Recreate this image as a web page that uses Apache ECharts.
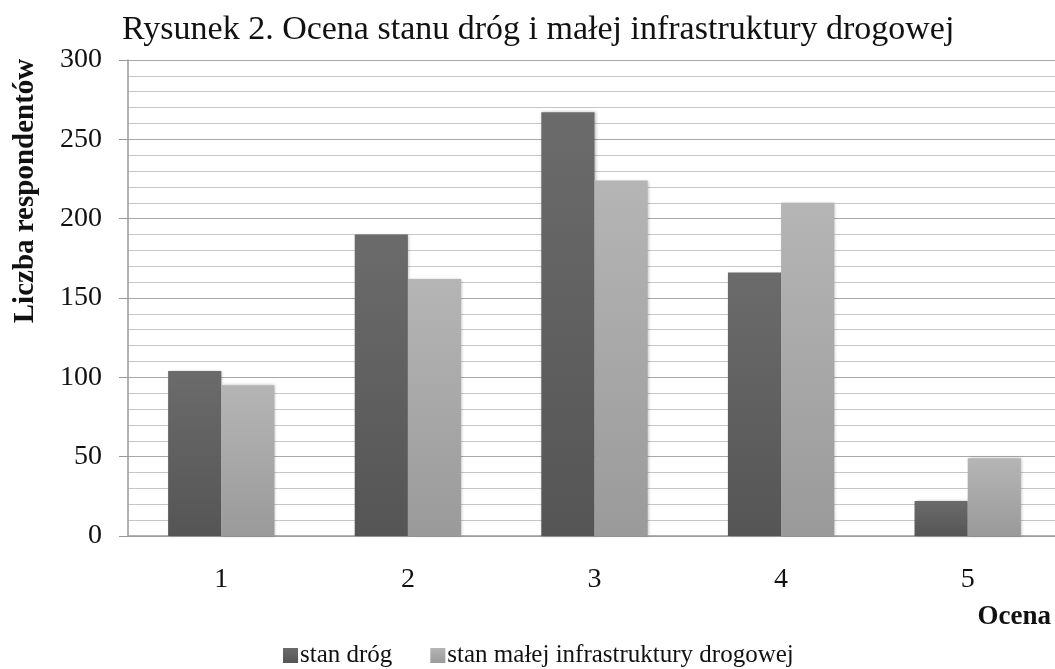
<!DOCTYPE html>
<html><head><meta charset="utf-8">
<script src="https://cdn.jsdelivr.net/npm/echarts@6/dist/echarts.min.js"></script>
<style>html,body{margin:0;padding:0;background:#fff}#c{width:1055px;height:669px}</style>
</head><body><div id="c"></div>
<script>
var categories = ['1', '2', '3', '4', '5'];
var stanDrog = [104, 190, 267, 166, 22];
var stanInfra = [95, 162, 224, 210, 49];
var seriesNames = ['stan dróg', 'stan małej infrastruktury drogowej'];
var titleText = 'Rysunek 2. Ocena stanu dróg i małej infrastruktury drogowej';
var yName = 'Liczba respondentów';
var xName = 'Ocena';

var serif = '"Liberation Serif", "DejaVu Serif", serif';
var chart = echarts.init(document.getElementById('c'));
function grad(top, bottom) {
  return new echarts.graphic.LinearGradient(0, 0, 0, 1, [{offset: 0, color: top}, {offset: 1, color: bottom}]);
}
chart.setOption({
  animation: false,
  backgroundColor: '#fff',
  title: {
    text: titleText, left: 117, top: 8,
    textStyle: {fontFamily: serif, fontSize: 34, fontWeight: 'normal', color: '#111'}
  },
  legend: {
    top: 638, left: 278, itemWidth: 15, itemHeight: 15, itemGap: 38,
    icon: 'rect',
    textStyle: {fontFamily: serif, fontSize: 25, color: '#111', padding: [0, 0, 0, -3]},
    data: seriesNames
  },
  grid: {left: 128, right: -6, top: 60, bottom: 133, outerBoundsMode: 'none', containLabel: false},
  graphic: [{
    type: 'text', x: 11, y: 191, rotation: Math.PI / 2,
    style: {text: yName, font: 'bold 29px ' + serif, fill: '#111', align: 'center', verticalAlign: 'top'}
  }, {
    type: 'text', x: 1051, y: 617,
    style: {text: xName, font: 'bold 27px ' + serif, fill: '#111', align: 'right', verticalAlign: 'middle'}
  }],
  xAxis: {
    type: 'category', data: categories,
    axisLine: {lineStyle: {color: '#999', width: 1.5}},
    axisTick: {show: false},
    axisLabel: {fontFamily: serif, fontSize: 28, color: '#111', margin: 30}
  },
  yAxis: {
    type: 'value', min: 0, max: 300, interval: 50,
    axisLine: {show: true, lineStyle: {color: '#999', width: 1.5}},
    axisTick: {show: true, length: 9, inside: false, lineStyle: {color: '#999'}},
    axisLabel: {fontFamily: serif, fontSize: 28, color: '#111', margin: 26},
    splitLine: {lineStyle: {color: '#a8a8a8', width: 1.2}},
    minorTick: {show: false, splitNumber: 5},
    minorSplitLine: {show: true, lineStyle: {color: '#c6c6c6', width: 1.2}}
  },
  series: [{
    name: seriesNames[0], type: 'bar', data: stanDrog,
    barGap: '0%', barCategoryGap: '43%',
    itemStyle: {color: grad('#6b6b6b', '#555555'), shadowColor: 'rgba(0,0,0,0.25)', shadowBlur: 3, shadowOffsetX: 1}
  }, {
    name: seriesNames[1], type: 'bar', data: stanInfra,
    itemStyle: {color: grad('#b5b5b5', '#9a9a9a'), shadowColor: 'rgba(0,0,0,0.25)', shadowBlur: 3, shadowOffsetX: 1}
  }]
});
</script></body></html>
